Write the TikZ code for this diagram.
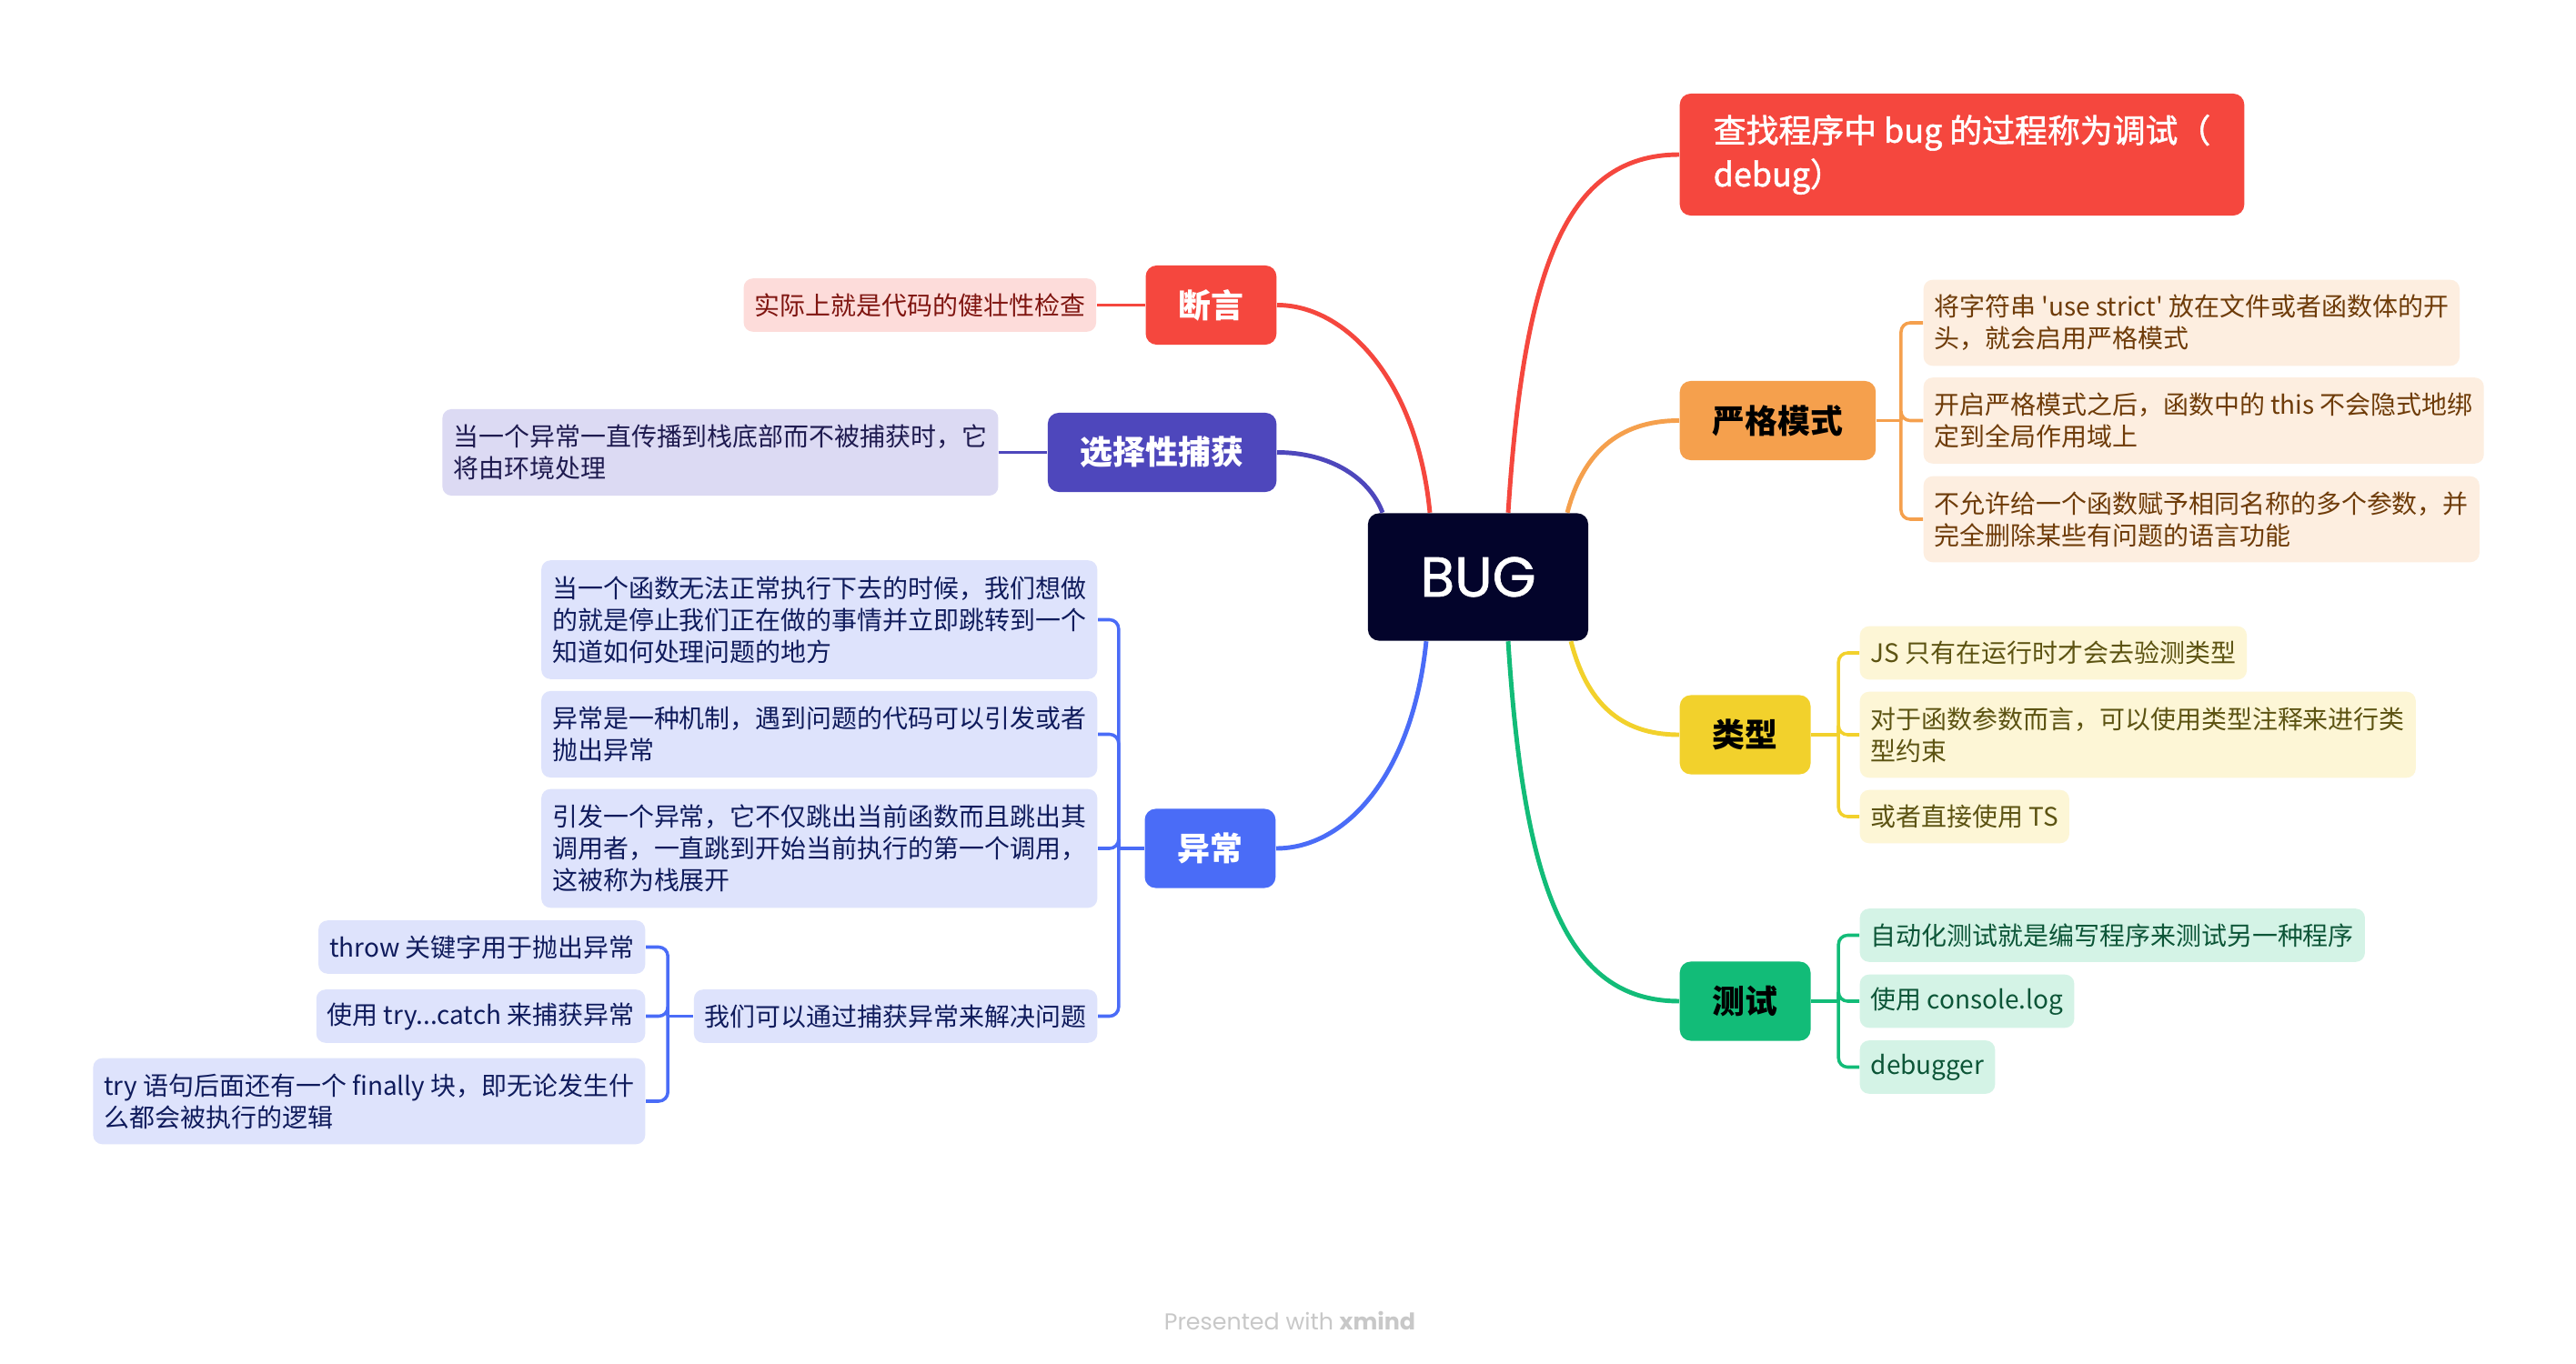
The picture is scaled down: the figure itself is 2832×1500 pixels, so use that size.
\documentclass[tikz,border=0pt]{standalone}
\usepackage{fontspec}
\setmainfont{Noto Sans CJK SC}
\newfontfamily\semibold[FakeBold=1.5]{Noto Sans CJK SC}
\newfontfamily\geofont{Poppins}
\newfontfamily\geomedium[FakeBold=1.2]{Poppins}
\usepackage{tikz}
\usetikzlibrary{calc, positioning}

\definecolor{bugnavy}{HTML}{03042B}
\definecolor{redmain}{HTML}{F5473E}
\definecolor{redpale}{HTML}{FDDCDA}
\definecolor{reddark}{HTML}{7F1510}
\definecolor{indigo}{HTML}{4E47BC}
\definecolor{indigopale}{HTML}{DCDAF3}
\definecolor{indigodark}{HTML}{1E1A4F}
\definecolor{bluemain}{HTML}{4A6CF7}
\definecolor{bluepale}{HTML}{DEE3FC}
\definecolor{bluedark}{HTML}{0F1B5C}
\definecolor{orangemain}{HTML}{F5A04D}
\definecolor{orangepale}{HTML}{FDEEE0}
\definecolor{orangedark}{HTML}{6E3B08}
\definecolor{yellowmain}{HTML}{F2D12C}
\definecolor{yellowpale}{HTML}{FDF6D6}
\definecolor{yellowdark}{HTML}{5C5312}
\definecolor{greenmain}{HTML}{12BC78}
\definecolor{greenpale}{HTML}{D4F3E6}
\definecolor{greendark}{HTML}{0C5537}
\definecolor{creditgray}{HTML}{C8C8C8}

\tikzset{
    bugbox/.style={rectangle, rounded corners=0.12cm, fill=bugnavy, text=white, font=\geomedium\fontsize{17.5}{20}\selectfont, minimum width=2.42cm, minimum height=1.4cm},
    topicbox/.style 2 args={rectangle, rounded corners=0.12cm, fill=#1, text=#2, font=\fontsize{10.2}{12}\selectfont\bfseries, inner xsep=0.36cm, minimum height=0.87cm},
    leafbox/.style 2 args={rectangle, rounded corners=0.1cm, fill=#1, text=#2, font=\fontsize{7.95}{9.95}\selectfont, align=left, inner xsep=0.12cm, inner ysep=0.1cm, minimum height=0.585cm},
    branchline/.style={draw=#1, line width=1.4pt},
    twigline/.style={draw=#1, line width=1pt, rounded corners=0.1cm},
}

\begin{document}
\begin{tikzpicture}[x=0.01cm, y=-0.01cm]
            \fill[white] (0,0) rectangle (2832,1500);
            \useasboundingbox (0,0) rectangle (2832,1500);

            \node[bugbox] (bug) at (1625,634.5) {BUG};

            % right hand side
            \node[topicbox={redmain}{white}, font=\semibold\fontsize{10.2}{13.7}\selectfont, align=left, inner xsep=0.37cm, minimum height=1.34cm, anchor=west] (debug) at (1846,170) {查找程序中 bug 的过程称为调试（\\debug）};
            \node[topicbox={orangemain}{black}, anchor=west] (strict) at (1846,462.5) {严格模式};
            \node[topicbox={yellowmain}{black}, anchor=west] (type) at (1846,808) {类型};
            \node[topicbox={greenmain}{black}, anchor=west] (test) at (1846,1101) {测试};

            \node[leafbox={orangepale}{orangedark}, minimum height=0.945cm, anchor=west] (strictA) at (2114,355) {将字符串 \textquotesingle{}use strict\textquotesingle{} 放在文件或者函数体的开\\头，就会启用严格模式};
            \node[leafbox={orangepale}{orangedark}, minimum height=0.945cm, anchor=west] (strictB) at (2114,462.5) {开启严格模式之后，函数中的 this 不会隐式地绑\\定到全局作用域上};
            \node[leafbox={orangepale}{orangedark}, minimum height=0.945cm, anchor=west] (strictC) at (2114,571) {不允许给一个函数赋予相同名称的多个参数，并\\完全删除某些有问题的语言功能};

            \node[leafbox={yellowpale}{yellowdark}, anchor=west] (typeA) at (2044,718) {JS 只有在运行时才会去验测类型};
            \node[leafbox={yellowpale}{yellowdark}, minimum height=0.945cm, anchor=west] (typeB) at (2044,808) {对于函数参数而言，可以使用类型注释来进行类\\型约束};
            \node[leafbox={yellowpale}{yellowdark}, anchor=west] (typeC) at (2044,898) {或者直接使用 TS};

            \node[leafbox={greenpale}{greendark}, anchor=west] (testA) at (2044,1028.5) {自动化测试就是编写程序来测试另一种程序};
            \node[leafbox={greenpale}{greendark}, anchor=west] (testB) at (2044,1101) {使用 console.log};
            \node[leafbox={greenpale}{greendark}, anchor=west] (testC) at (2044,1173.5) {debugger};

            % left hand side
            \node[topicbox={redmain}{white}, anchor=east] (assert) at (1404,335.5) {断言};
            \node[leafbox={redpale}{reddark}, left=0.53cm of assert] (assertnote) {实际上就是代码的健壮性检查};
            \node[topicbox={indigo}{white}, anchor=east] (catch) at (1404,497.5) {选择性捕获};
            \node[leafbox={indigopale}{indigodark}, minimum height=0.95cm, left=0.53cm of catch] (catchnote) {当一个异常一直传播到栈底部而不被捕获时，它\\将由环境处理};
            \node[topicbox={bluemain}{white}, anchor=east] (exc) at (1403,933) {异常};

            \node[leafbox={bluepale}{bluedark}, minimum height=1.305cm, anchor=east] (excA) at (1207,681.5) {当一个函数无法正常执行下去的时候，我们想做\\的就是停止我们正在做的事情并立即跳转到一个\\知道如何处理问题的地方};
            \node[leafbox={bluepale}{bluedark}, minimum height=0.95cm, anchor=east] (excB) at (1207,807.5) {异常是一种机制，遇到问题的代码可以引发或者\\抛出异常};
            \node[leafbox={bluepale}{bluedark}, minimum height=1.305cm, anchor=east] (excC) at (1207,933) {引发一个异常，它不仅跳出当前函数而且跳出其\\调用者，一直跳到开始当前执行的第一个调用，\\这被称为栈展开};
            \node[leafbox={bluepale}{bluedark}, anchor=east] (excD) at (1207,1117.5) {我们可以通过捕获异常来解决问题};

            \node[leafbox={bluepale}{bluedark}, anchor=east] (tryA) at (710,1041.5) {throw 关键字用于抛出异常};
            \node[leafbox={bluepale}{bluedark}, anchor=east] (tryB) at (710,1117.5) {使用 try...catch 来捕获异常};
            \node[leafbox={bluepale}{bluedark}, minimum height=0.945cm, anchor=east] (tryC) at (710,1211) {try 语句后面还有一个 finally 块，即无论发生什\\么都会被执行的逻辑};

            \node[text=creditgray, font=\geofont\fontsize{7.2}{9}\selectfont] (credit) at (1418,1452) {Presented with \textbf{xmind}};

            % curves out of the root
            \draw[branchline=redmain] ([xshift=0.33cm]bug.north) .. controls +(17,-265) and +(-126,0) .. (debug.west);
            \draw[branchline=orangemain] ([xshift=0.98cm]bug.north) .. controls +(17,-65) and +(-67,0) .. (strict.west);
            \draw[branchline=yellowmain] ([xshift=1.02cm]bug.south) .. controls +(17,66) and +(-66,0) .. (type.west);
            \draw[branchline=greenmain] ([xshift=0.33cm]bug.south) .. controls +(17,266) and +(-126,0) .. (test.west);
            \draw[branchline=redmain] ([xshift=-0.53cm]bug.north) .. controls +(-14,-145) and +(76,0) .. (assert.east);
            \draw[branchline=indigo] ([xshift=-1.05cm]bug.north) .. controls +(-15,-40) and +(56,0) .. (catch.east);
            \draw[branchline=bluemain] ([xshift=-0.57cm]bug.south) .. controls +(-15,146) and +(77,0) .. (exc.east);

            % brackets
            \draw[twigline=redmain] (assert.west) -- (assertnote.east);
            \draw[twigline=indigo] (catch.west) -- (catchnote.east);

            \coordinate (strictfork) at ([xshift=0.27cm]strict.east);
            \coordinate (typefork) at ([xshift=0.3cm]type.east);
            \coordinate (testfork) at ([xshift=0.3cm]test.east);
            \coordinate (excfork) at ([xshift=-0.28cm]exc.west);
            \coordinate (tryfork) at ([xshift=-0.28cm]excD.west);

            \draw[twigline=orangemain] (strict.east) -- (strictfork);
            \foreach \leafname in {strictA,strictB,strictC}
                \draw[twigline=orangemain] (strictfork) |- (\leafname.west);
            \draw[twigline=yellowmain] (type.east) -- (typefork);
            \foreach \leafname in {typeA,typeB,typeC}
                \draw[twigline=yellowmain] (typefork) |- (\leafname.west);
            \draw[twigline=greenmain] (test.east) -- (testfork);
            \foreach \leafname in {testA,testB,testC}
                \draw[twigline=greenmain] (testfork) |- (\leafname.west);
            \draw[twigline=bluemain] (exc.west) -- (excfork);
            \foreach \leafname in {excA,excB,excC,excD}
                \draw[twigline=bluemain] (excfork) |- (\leafname.east);
            \draw[twigline=bluemain] (excD.west) -- (tryfork);
            \foreach \leafname in {tryA,tryB,tryC}
                \draw[twigline=bluemain] (tryfork) |- (\leafname.east);
\end{tikzpicture}
\end{document}
